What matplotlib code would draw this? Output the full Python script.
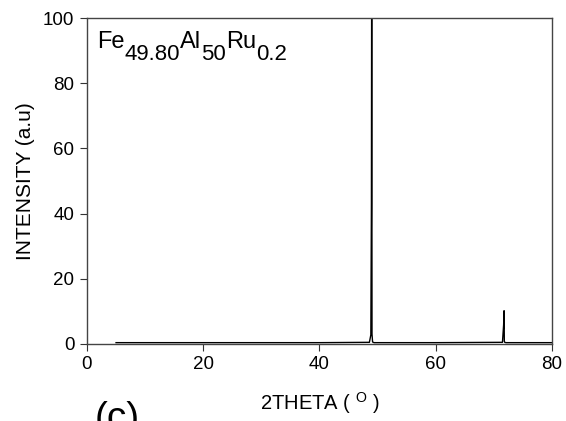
import matplotlib
matplotlib.use("Agg")
import matplotlib.pyplot as plt
import numpy as np

plt.rcParams['font.family'] = ['Liberation Sans', 'DejaVu Sans']

# XRD pattern
two_theta = [5.0, 20.0, 40.0, 48.6, 48.85, 48.95, 49.0, 49.05, 49.15, 49.4,
             60.0, 71.5, 71.7, 71.78, 71.82, 71.9, 72.1, 80.0]
intensity = [0.4, 0.4, 0.4, 0.5, 2.8, 43.0, 130.0, 3.0, 0.6, 0.4,
             0.4, 0.5, 5.8, 10.2, 0.8, 0.5, 0.4, 0.4]

x_ticks = [0, 20, 40, 60, 80]
y_ticks = [0, 20, 40, 60, 80, 100]

fig = plt.figure(figsize=(5.66, 4.21), dpi=100)
ax = fig.add_axes([0.1537, 0.183, 0.8213, 0.774])
ax.plot(two_theta, intensity, color='black', lw=1.0)
ax.set_xlim(0, 80)
ax.set_ylim(0, 100)
ax.set_xticks(x_ticks)
ax.set_yticks(y_ticks)
ax.tick_params(direction='out', length=5, labelsize=13.5, top=False, right=False,
               color='#333333', pad=4)
for s in ax.spines.values():
    s.set_color('#444444')
    s.set_linewidth(1.0)

ax.set_ylabel('INTENSITY (a.u)', fontsize=15, labelpad=6)
ax.set_xlabel(r'2THETA ( $^{\mathregular{O}}$ )', fontsize=14.5, labelpad=12)

# Composition label with near-full-size subscripts
fig.canvas.draw()
r = fig.canvas.get_renderer()
pieces = [('Fe', 0), ('49.80', -1), ('Al', 0), ('50', -1), ('Ru', 0), ('0.2', -1)]
x0, y0 = 97, 421 - 48  # pixel baseline
for txt, lvl in pieces:
    size = 17 if lvl == 0 else 16
    dy = 0 if lvl == 0 else -12
    t = fig.text(x0 / 566, (y0 + dy) / 421, txt, fontsize=size, va='baseline', ha='left')
    bb = t.get_window_extent(renderer=r)
    x0 += bb.width

fig.text(95 / 566, 1 - 401 / 421, '(c)', fontsize=28, va='top', ha='left')

fig.savefig('out.png', dpi=100)
